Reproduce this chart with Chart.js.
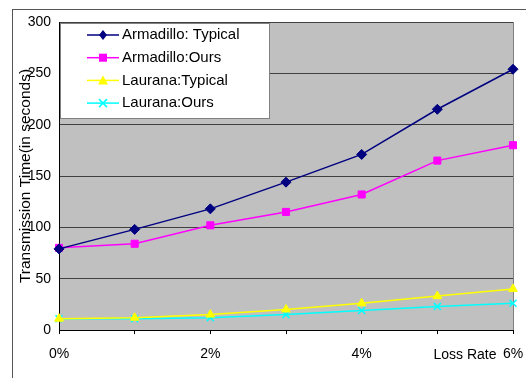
<!DOCTYPE html>
<html>
<head>
<meta charset="utf-8">
<script src="https://cdn.jsdelivr.net/npm/chart.js@4.4.0/dist/chart.umd.min.js"></script>
<style>
  html, body { margin: 0; padding: 0; background: #fff; }
  #wrap { position: relative; width: 526px; height: 378px; }
  #frame { position: absolute; left: 12px; top: 9px; right: 0; bottom: 0; border-left: 1px solid #555; border-top: 1px solid #555; }
  canvas { position: absolute; left: 0; top: 0; }
</style>
</head>
<body>
<div id="wrap">
  <div id="frame"></div>
  <canvas id="myChart" width="526" height="378"></canvas>
</div>
<script>
const lossRates = ['0%', '1%', '2%', '3%', '4%', '5%', '6%'];
const armadilloTypical = [79, 98, 118, 144, 171, 215, 254];
const armadilloOurs = [80, 84, 102, 115, 132, 165, 180];
const lauranaTypical = [11, 12, 15, 20, 26, 33, 40];
const lauranaOurs = [11, 11, 12, 15, 19, 23, 26];
const yTitle = 'Transmission Time(in seconds)';
const xTitle = 'Loss Rate';

const font = 'Arial, "Liberation Sans", sans-serif';

// grey plot background + right border
const plotBg = {
    id: 'plotBg',
    beforeDraw(chart) {
        const { ctx, chartArea: a } = chart;
        ctx.save();
        ctx.fillStyle = '#c0c0c0';
        ctx.fillRect(a.left, a.top, a.right - a.left, a.bottom - a.top);
        ctx.strokeStyle = '#808080';
        ctx.lineWidth = 1;
        ctx.beginPath();
        ctx.moveTo(a.right + 0.5, a.top);
        ctx.lineTo(a.right + 0.5, a.bottom);
        ctx.stroke();
        ctx.restore();
    }
};

function marker(ctx, style, x, y, color) {
    ctx.save();
    ctx.fillStyle = color;
    ctx.strokeStyle = color;
    ctx.lineWidth = 1.5;
    ctx.beginPath();
    if (style === 'rectRot') {
        ctx.moveTo(x, y - 5); ctx.lineTo(x + 4, y); ctx.lineTo(x, y + 5); ctx.lineTo(x - 4, y); ctx.closePath(); ctx.fill();
    } else if (style === 'rect') {
        ctx.fillRect(x - 4, y - 4, 8, 8);
    } else if (style === 'triangle') {
        ctx.moveTo(x, y - 5); ctx.lineTo(x + 5, y + 4); ctx.lineTo(x - 5, y + 4); ctx.closePath(); ctx.fill();
    } else {
        ctx.moveTo(x - 4, y - 4); ctx.lineTo(x + 4, y + 4); ctx.moveTo(x + 4, y - 4); ctx.lineTo(x - 4, y + 4); ctx.stroke();
    }
    ctx.restore();
}

// legend box inside the plot, plus the x axis title next to the last tick
const insideLegend = {
    id: 'insideLegend',
    afterDatasetsDraw(chart) {
        const { ctx, chartArea: a } = chart;
        const x0 = a.left + 1, y0 = a.top + 1, w = 209, h = 95;
        ctx.save();
        ctx.fillStyle = '#fff';
        ctx.fillRect(x0, y0, w, h);
        ctx.strokeStyle = '#808080';
        ctx.lineWidth = 1;
        ctx.strokeRect(x0 + 0.5, y0 + 0.5, w, h);
        ctx.font = '15px ' + font;
        ctx.textBaseline = 'middle';
        chart.data.datasets.forEach((ds, i) => {
            const y = y0 + 12 + i * 22.7;
            ctx.strokeStyle = ds.borderColor;
            ctx.lineWidth = 1.5;
            ctx.beginPath();
            ctx.moveTo(x0 + 27, y);
            ctx.lineTo(x0 + 59, y);
            ctx.stroke();
            marker(ctx, ds.pointStyle, x0 + 43, y, ds.borderColor);
            ctx.fillStyle = '#000';
            ctx.fillText(ds.label, x0 + 62, y);
        });
        ctx.font = '14px ' + font;
        ctx.textAlign = 'center';
        ctx.fillText(xTitle, a.right - 48, a.bottom + 25);
        ctx.restore();
    }
};

const ctx = document.getElementById('myChart').getContext('2d');
new Chart(ctx, {
    type: 'line',
    data: {
        labels: lossRates,
        datasets: [
            { label: 'Armadillo: Typical', data: armadilloTypical, borderColor: '#000080', backgroundColor: '#000080', pointStyle: 'rectRot', pointRadius: 5 },
            { label: 'Armadillo:Ours', data: armadilloOurs, borderColor: '#ff00ff', backgroundColor: '#ff00ff', pointStyle: 'rect', pointRadius: 5 },
            { label: 'Laurana:Typical', data: lauranaTypical, borderColor: '#ffff00', backgroundColor: '#ffff00', pointStyle: 'triangle', pointRadius: 5 },
            { label: 'Laurana:Ours', data: lauranaOurs, borderColor: '#00ffff', backgroundColor: '#00ffff', pointStyle: 'crossRot', pointRadius: 5, pointBorderWidth: 1.5 }
        ]
    },
    options: {
        responsive: false,
        animation: false,
        layout: { padding: { left: 12, top: 22, right: 13, bottom: 0 } },
        elements: { line: { borderWidth: 1.5, tension: 0 } },
        plugins: { legend: { display: false }, tooltip: { enabled: false } },
        scales: {
            x: {
                offset: false,
                afterFit(scale) {
                    scale.height = 48;
                    scale.paddingLeft = 0;
                    scale.paddingRight = 0;
                },
                grid: { display: true, drawOnChartArea: false, tickLength: 4, color: '#000' },
                border: { color: '#000' },
                ticks: {
                    autoSkip: false,
                    maxRotation: 0,
                    padding: 12,
                    color: '#000',
                    font: { family: font, size: 14 },
                    callback: (v, i) => (i % 2 === 0 ? lossRates[i] : '')
                }
            },
            y: {
                min: 0,
                max: 300,
                afterFit(scale) { scale.width = 47; },
                grid: { color: '#404040', drawTicks: false },
                border: { color: '#000' },
                ticks: { stepSize: 50, padding: 8, color: '#000', font: { family: font, size: 14 } },
                title: { display: true, text: yTitle, color: '#000', font: { family: font, size: 15.5 }, padding: { top: 4, bottom: 0 } }
            }
        }
    },
    plugins: [plotBg, insideLegend]
});
</script>
</body>
</html>
